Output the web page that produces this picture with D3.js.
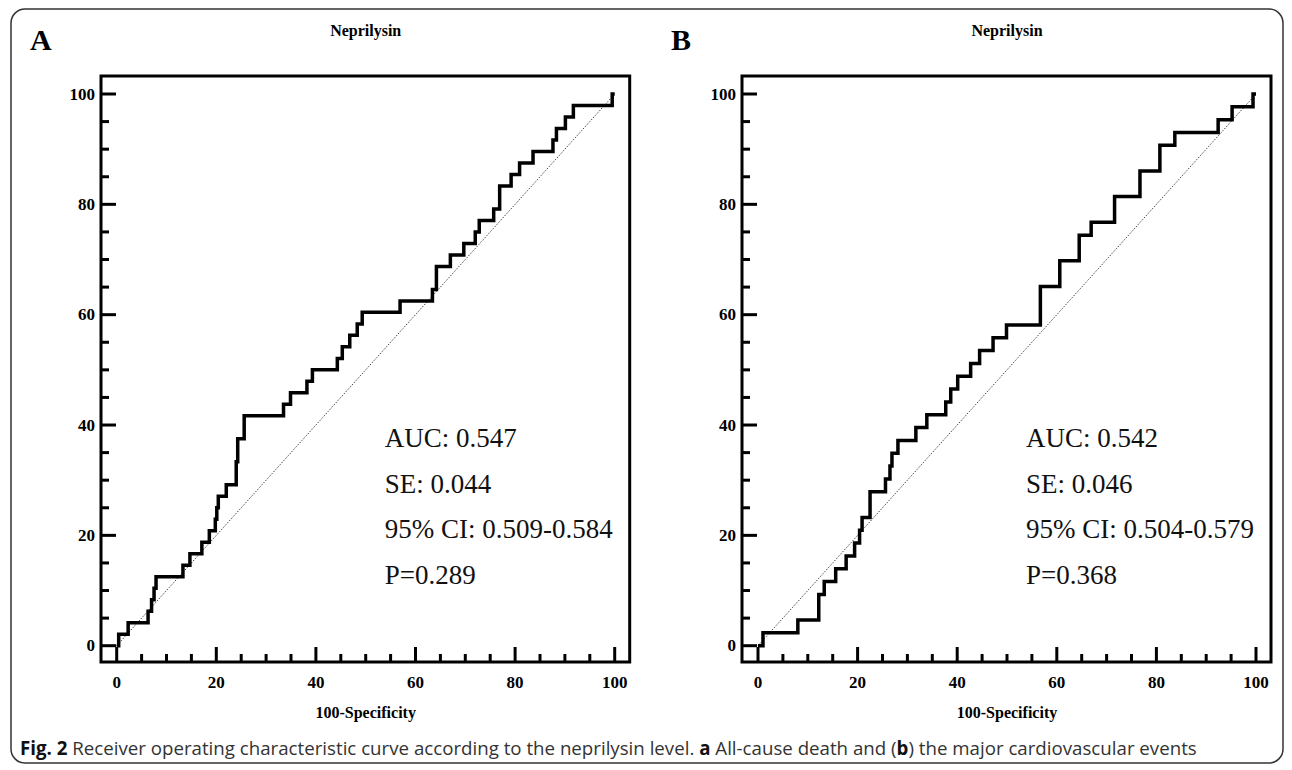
<!DOCTYPE html>
<html>
<head>
<meta charset="utf-8">
<script src="https://cdn.jsdelivr.net/npm/d3@7"></script>
<style>
  body { margin: 0; background: #fff; }
</style>
</head>
<body>
<script>
// ROC step corners (100-Specificity, Sensitivity)
var fprA = [0, 0.4, 2.3, 6.3, 7.0, 7.5, 7.9, 13.3, 14.7, 17.1, 18.6, 19.8, 20.1, 20.4,
  22.0, 24.0, 24.3, 25.6, 33.5, 34.9, 38.2, 39.3, 44.3, 45.3, 46.8, 48.3, 49.3,
  56.9, 63.4, 64.2, 67.0, 69.7, 72.0, 72.8, 75.7, 76.9, 79.2, 80.9, 83.6, 87.6,
  88.3, 90.1, 91.7, 99.5, 100];
var tprA = [0, 2.08, 4.17, 6.25, 8.33, 10.42, 12.5, 14.58, 16.67, 18.75, 20.83, 22.92, 25, 27.08,
  29.17, 33.33, 37.5, 41.67, 43.75, 45.83, 47.92, 50, 52.08, 54.17, 56.25, 58.33, 60.42,
  62.5, 64.58, 68.75, 70.83, 72.92, 75, 77.08, 79.17, 83.33, 85.42, 87.5, 89.58, 91.67,
  93.75, 95.83, 97.92, 100, 100];

var fprB = [0, 1, 8, 12.2, 13.3, 15.6, 17.7, 19.4, 20.4, 20.9, 22.5, 25.6, 26.5, 26.9, 28.1,
  31.7, 33.9, 37.7, 38.7, 40.1, 42.7, 44.5, 47.2, 49.9, 56.7, 60.6, 64.5, 66.9, 71.6,
  76.7, 80.7, 83.7, 92.4, 95.2, 99.4, 100];
var tprB = [0, 2.33, 4.65, 9.3, 11.63, 13.95, 16.28, 18.6, 20.93, 23.26, 27.91, 30.23, 32.56,
  34.88, 37.21, 39.53, 41.86, 44.19, 46.51, 48.84, 51.16, 53.49, 55.81, 58.14, 65.12,
  69.77, 74.42, 76.74, 81.4, 86.05, 90.7, 93.02, 95.35, 97.67, 100, 100];

var statsA = ["AUC: 0.547", "SE: 0.044", "95% CI: 0.509-0.584", "P=0.289"];
var statsB = ["AUC: 0.542", "SE: 0.046", "95% CI: 0.504-0.579", "P=0.368"];

var majorTicks = [0, 20, 40, 60, 80, 100];
var minorTicks = [5, 10, 15, 25, 30, 35, 45, 50, 55, 65, 70, 75, 85, 90, 95];

var W = 1292, H = 770;
var serif = "'Liberation Serif', 'Times New Roman', serif";

var svg = d3.select("body").append("svg")
  .attr("width", W).attr("height", H);

// rounded outer border
svg.append("rect")
  .attr("x", 11).attr("y", 9)
  .attr("width", 1272).attr("height", 754)
  .attr("rx", 14)
  .attr("fill", "none")
  .attr("stroke", "#333")
  .attr("stroke-width", 1.5);

function drawPanel(letter, left, x0, fpr, tpr, stats) {
  var x = d3.scaleLinear().domain([0, 100]).range([x0, x0 + 498]);
  var y = d3.scaleLinear().domain([0, 100]).range([645.7, 94]);
  var right = x(100) + 15, top = 76, bottom = 662;

  var g = svg.append("g");

  // panel letter
  g.append("text")
    .attr("x", left - 71).attr("y", 50)
    .style("font-family", serif).style("font-weight", "bold")
    .style("font-size", "30px")
    .text(letter);

  // title
  g.append("text")
    .attr("x", x(50)).attr("y", 36)
    .attr("text-anchor", "middle")
    .style("font-family", serif).style("font-weight", "bold")
    .style("font-size", "16px")
    .text("Neprilysin");

  // ticks, drawn inward from the frame
  var ticks = majorTicks.map(function (v) { return { v: v, len: 15 }; })
    .concat(minorTicks.map(function (v) { return { v: v, len: 8 }; }));

  ticks.forEach(function (t) {
    g.append("path")
      .attr("d", "M" + left + "," + y(t.v) + "H" + (left + t.len))
      .attr("stroke", "#000").attr("stroke-width", 3).attr("fill", "none");
    g.append("path")
      .attr("d", "M" + x(t.v) + "," + bottom + "V" + (bottom - t.len))
      .attr("stroke", "#000").attr("stroke-width", 3).attr("fill", "none");
  });

  // tick labels
  g.selectAll("text.ylab").data(majorTicks).enter().append("text")
    .attr("class", "ylab")
    .attr("x", left - 6)
    .attr("y", function (d) { return y(d); })
    .attr("dy", "0.34em")
    .attr("text-anchor", "end")
    .style("font-family", serif).style("font-weight", "bold")
    .style("font-size", "17px")
    .text(function (d) { return d; });

  g.selectAll("text.xlab").data(majorTicks).enter().append("text")
    .attr("class", "xlab")
    .attr("x", function (d) { return x(d); })
    .attr("y", 688)
    .attr("text-anchor", "middle")
    .style("font-family", serif).style("font-weight", "bold")
    .style("font-size", "17px")
    .text(function (d) { return d; });

  // x axis title
  g.append("text")
    .attr("x", x(50)).attr("y", 718)
    .attr("text-anchor", "middle")
    .style("font-family", serif).style("font-weight", "bold")
    .style("font-size", "16px")
    .text("100-Specificity");

  // diagonal reference
  g.append("line")
    .attr("x1", x(0)).attr("y1", y(0))
    .attr("x2", x(100)).attr("y2", y(100))
    .attr("stroke", "#444")
    .attr("stroke-width", 1)
    .attr("stroke-dasharray", "1.5,1.5");

  // ROC curve
  var pts = fpr.map(function (d, i) { return [d, tpr[i]]; });
  var line = d3.line()
    .x(function (d) { return x(d[0]); })
    .y(function (d) { return y(d[1]); })
    .curve(d3.curveStepAfter);
  g.append("path")
    .datum(pts)
    .attr("d", line)
    .attr("fill", "none")
    .attr("stroke", "#000")
    .attr("stroke-width", 3.5)
    .attr("stroke-linejoin", "miter");

  // frame
  g.append("rect")
    .attr("x", left).attr("y", top)
    .attr("width", right - left).attr("height", bottom - top)
    .attr("fill", "none")
    .attr("stroke", "#000")
    .attr("stroke-width", 3);

  // stats
  g.selectAll("text.stat")
    .data(stats)
    .enter().append("text")
    .attr("class", "stat")
    .attr("x", x(0) + 268)
    .attr("y", function (d, i) { return 447 + i * 45.7; })
    .style("font-family", serif)
    .style("font-size", "27px")
    .attr("fill", "#111")
    .text(function (d) { return d; });
}

drawPanel("A", 101, 116.7, fprA, tprA, statsA);
drawPanel("B", 742, 758, fprB, tprB, statsB);

// caption
var cap = svg.append("text")
  .attr("x", 20).attr("y", 755)
  .style("font-family", "'Open Sans', 'Noto Sans', sans-serif")
  .style("font-size", "16px")
  .attr("fill", "#333");
var parts = [
  ["Fig. 2", true], [" Receiver operating characteristic curve according to the neprilysin level. ", false],
  ["a", true], [" All-cause death and (", false], ["b", true], [") the major cardiovascular events", false]
];
parts.forEach(function (p) {
  cap.append("tspan")
    .style("font-weight", p[1] ? "bold" : "normal")
    .attr("fill", p[1] ? "#111" : "#333")
    .text(p[0]);
});
var len = cap.node().getComputedTextLength();
cap.style("font-size", (16 * 1178 / len) + "px");
</script>
</body>
</html>
